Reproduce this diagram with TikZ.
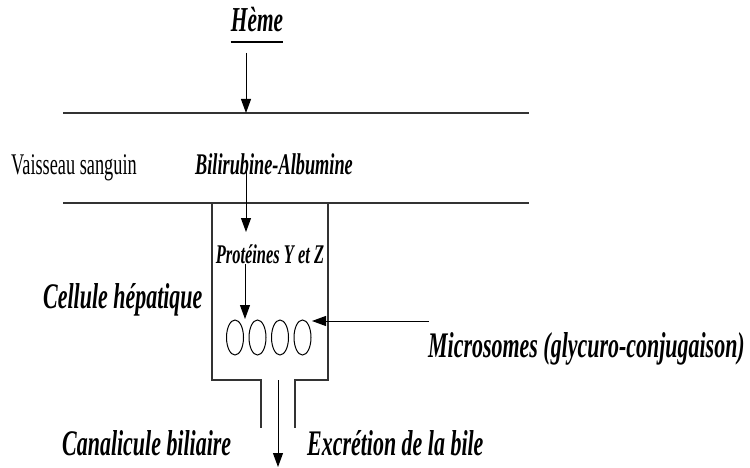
\documentclass[tikz,border=0pt]{standalone}
\usepackage{fontspec}
\setmainfont{Liberation Serif}[FakeStretch=0.61]
\usetikzlibrary{arrows.meta,shapes.geometric,calc}
\begin{document}
\begin{tikzpicture}[x=1pt,y=1pt,
  lbl/.style={inner sep=0pt,font=\fontsize{36}{38}\selectfont\bfseries\itshape},
  wall/.style={line width=1.6pt,draw=black!80},
  cellline/.style={line width=1.2pt,draw=black!80},
  arr/.style={line width=1pt,-{Triangle[length=14pt,width=10pt]}},
  micro/.style={draw,ellipse,line width=1pt,minimum width=17pt,minimum height=35pt,inner sep=0pt}]
\useasboundingbox (0,0) rectangle (750,-468);
% texts
\node[lbl,anchor=base,font=\fontsize{35}{38}\selectfont\bfseries\itshape] (heme) at (257,-32) {Hème};
\draw[line width=2.6pt] ($(heme.base west)+(0,-10)$) coordinate (ulA) -- ($(heme.base east)+(0,-10)$) coordinate (ulB);
\node[inner sep=0pt,anchor=base west,font=\fontsize{30}{32}\selectfont] (vs) at (11,-175) {Vaisseau sanguin};
\node[lbl,anchor=base,font=\fontsize{30}{32}\selectfont\bfseries\itshape] (bili) at (274,-175) {Bilirubine-Albumine};
\node[lbl,anchor=base,font=\fontsize{27}{29}\selectfont\bfseries\itshape] (prot) at (270,-263) {Protéines Y et Z};
\node[lbl,anchor=base west] (cell) at (43,-308) {Cellule hépatique};
\node[lbl,anchor=base west] (micr) at (428,-357) {Microsomes (glycuro-conjugaison)};
\node[lbl,anchor=base west] (cana) at (62,-455) {Canalicule biliaire};
\node[lbl,anchor=base west] (excr) at (307,-455) {Excrétion de la bile};
% vessel walls
\coordinate (t1) at (63,-113); \coordinate (t2) at (529,-113);
\coordinate (b1) at (63,-203); \coordinate (b2) at (529,-203);
\draw[wall] (t1) -- (t2);
\draw[wall] (b1) -- (b2);
% hepatic cell box
\coordinate (cL) at (212,-203); \coordinate (cR) at (328,-203);
\draw[cellline] (cL) -- (212,-380) -- (261,-380) -- (261,-428);
\draw[cellline] (cR) -- (328,-380) -- (295,-380) -- (295,-428);
% microsomes
\node[micro] (m1) at (235,-337.5) {};
\node[micro] (m2) at (257.5,-337.5) {};
\node[micro] (m3) at (280,-337.5) {};
\node[micro] (m4) at (302.5,-337.5) {};
% arrows
\coordinate (a1s) at (246,-53); \coordinate (a1e) at (246,-113);
\draw[arr] (a1s) -- (a1e);
\coordinate (a2s) at (246,-163); \coordinate (a2e) at (246,-232);
\draw[arr] (a2s) -- (a2e);
\coordinate (a3s) at (245,-264); \coordinate (a3e) at (245,-319);
\draw[arr] (a3s) -- (a3e);
\coordinate (a4s) at (429,-321); \coordinate (a4e) at (312,-321);
\draw[arr] (a4s) -- (a4e);
\coordinate (a5s) at (278,-380); \coordinate (a5e) at (278,-467);
\draw[arr] (a5s) -- (a5e);
\end{tikzpicture}
\end{document}
